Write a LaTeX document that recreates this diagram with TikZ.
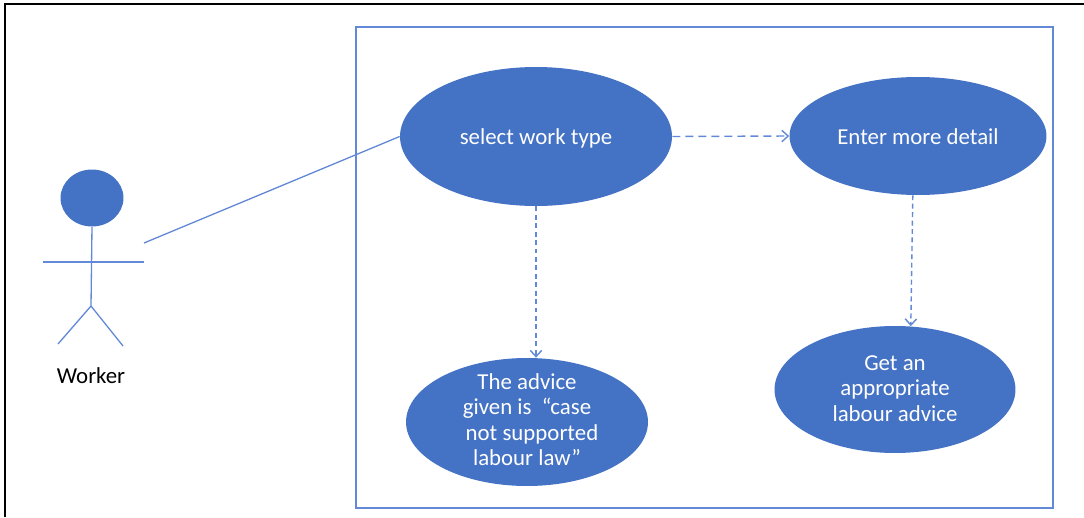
\documentclass[tikz,border=0pt]{standalone}
\usepackage{fontspec}
\usepackage{xcolor}
\setmainfont{Carlito}
\usetikzlibrary{shapes.geometric, arrows.meta}
\definecolor{ucfill}{HTML}{4472C4}
\definecolor{ucline}{HTML}{6288D6}
\tikzset{
    usecase/.style={ellipse, fill=ucfill, inner sep=0pt, inner ysep=-10pt, text=white, align=center, font=\fontsize{13}{14.4}\selectfont},
    ucedge/.style={ucline, line width=0.75pt},
    ucdash/.style={-{Straight Barb[length=3.6pt, width=6.5pt]}, ucline, line width=0.8pt},
    longdash/.style={dash pattern=on 4.6pt off 2.8pt},
    shortdash/.style={dash pattern=on 2.8pt off 2pt}
}
\begin{document}
\begin{tikzpicture}[x=0.02cm, y=-0.02cm]
    \useasboundingbox (0,0) rectangle (1084,517);
    % Outer frame and system box
    \draw[black, line width=1.1pt] (5,517) -- (5,4) -- (1084,4);
    \node[draw=ucline, line width=0.75pt, minimum width=13.94cm, minimum height=9.62cm, inner sep=0pt] (system) at (704.5,267.5) {};

    % Worker
    \node[usecase, minimum width=1.26cm, minimum height=1.14cm] (head) at (92,198) {};
    \coordinate (hip) at (91,306);
    \coordinate (armL) at (43,262);
    \coordinate (armR) at (144,262);
    \coordinate (footL) at (58,344);
    \coordinate (footR) at (123,346);
    \coordinate (hand) at (144,243);
    \draw[ucedge] (head.south) -- (hip);
    \draw[ucedge] (armL) -- (armR);
    \draw[ucedge] (hip) -- (footL);
    \draw[ucedge] (hip) -- (footR);
    \node[font=\fontsize{13}{14.4}\selectfont, inner sep=0pt] (worker) at (91,376) {Worker};

    % Use cases
    \node[usecase, text height=12.5pt, text depth=3pt, minimum width=5.44cm, minimum height=2.78cm] (select) at (536,136.5) {select work type};
    \node[usecase, text height=12.5pt, text depth=3pt, minimum width=5.14cm, minimum height=2.36cm] (detail) at (918,136) {Enter more detail};
    \node[usecase, text depth=2.8pt, minimum width=4.84cm, minimum height=2.56cm] (refuse) at (527,422) {The advice\\given is~~``case\\\hspace*{0.2cm}not supported\\labour law''};
    \node[usecase, text depth=1.3pt, minimum width=4.82cm, minimum height=2.54cm] (advice) at (895,389.5) {Get an\\appropriate\\labour advice};

    % Connectors
    \draw[ucedge] (hand) -- (select.west);
    \draw[ucdash, longdash] (select.east) -- (detail.west);
    \draw[ucdash, shortdash] (select.south) -- (select.south |- refuse.north);
    \draw[ucdash, shortdash] (detail.265) -- (advice.76);
\end{tikzpicture}
\end{document}
